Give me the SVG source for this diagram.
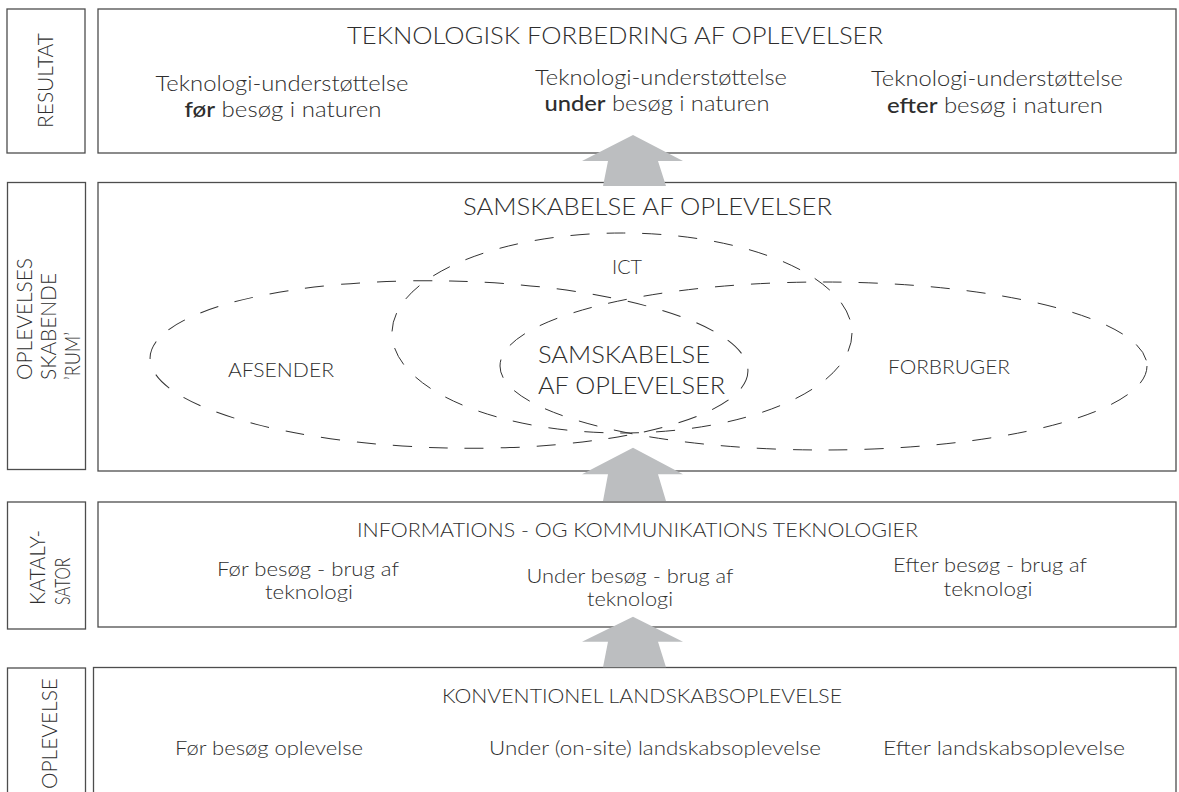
<svg xmlns="http://www.w3.org/2000/svg" width="1179" height="792" viewBox="0 0 1179 792">
<style>
.box{fill:none;stroke:#4d4d4d;stroke-width:1.3}
.t{font-family:Lato,"Liberation Sans",sans-serif;font-weight:300;fill:#2e2e2e}
.b{font-weight:500}
.ell{fill:none;stroke:#333;stroke-width:1;stroke-dasharray:19 17}
.arrow{fill:#bcbec0}
.m{text-anchor:middle}
</style>
<rect width="1179" height="792" fill="#fff"/>

<g id="band-resultat">
<rect class="box" x="7" y="9" width="78" height="144"/>
<text class="t m" font-size="22" textLength="95" lengthAdjust="spacingAndGlyphs" transform="translate(53,80.5) rotate(-90)">RESULTAT</text>
<rect class="box" x="98" y="9" width="1078" height="144"/>
<text class="t m" x="615" y="44" font-size="24" textLength="536" lengthAdjust="spacingAndGlyphs">TEKNOLOGISK FORBEDRING AF OPLEVELSER</text>
<text class="t m" x="282" y="91" font-size="21" textLength="253" lengthAdjust="spacingAndGlyphs">Teknologi-understøttelse</text>
<text class="t m" x="283" y="117" font-size="21" textLength="197" lengthAdjust="spacingAndGlyphs"><tspan class="b">før</tspan> besøg i naturen</text>
<text class="t m" x="661" y="85" font-size="21" textLength="252" lengthAdjust="spacingAndGlyphs">Teknologi-understøttelse</text>
<text class="t m" x="657" y="111" font-size="21" textLength="225" lengthAdjust="spacingAndGlyphs"><tspan class="b">under</tspan> besøg i naturen</text>
<text class="t m" x="997" y="86" font-size="21" textLength="252" lengthAdjust="spacingAndGlyphs">Teknologi-understøttelse</text>
<text class="t m" x="995" y="113" font-size="21" textLength="216" lengthAdjust="spacingAndGlyphs"><tspan class="b">efter</tspan> besøg i naturen</text>
</g>

<g id="band-rum">
<rect class="box" x="7.5" y="182.5" width="78" height="287"/>
<text class="t" font-size="22" textLength="122" lengthAdjust="spacingAndGlyphs" transform="translate(31.5,380) rotate(-90)">OPLEVELSES</text>
<text class="t" font-size="22" textLength="107" lengthAdjust="spacingAndGlyphs" transform="translate(55.5,380) rotate(-90)">SKABENDE</text>
<text class="t" font-size="22" textLength="48" lengthAdjust="spacingAndGlyphs" transform="translate(80,380) rotate(-90)">’RUM’</text>
<rect class="box" x="98" y="182.5" width="1078" height="288.5"/>
<text class="t m" x="647.5" y="215" font-size="24" textLength="369" lengthAdjust="spacingAndGlyphs">SAMSKABELSE AF OPLEVELSER</text>
<ellipse class="ell" cx="449" cy="364.5" rx="299" ry="83.5" transform="rotate(1.3 449 364.5)"/>
<ellipse class="ell" cx="823.5" cy="366" rx="323.5" ry="84"/>
<ellipse class="ell" cx="622" cy="333" rx="230" ry="100"/>
<text class="t m" x="627" y="274" font-size="20" textLength="30" lengthAdjust="spacingAndGlyphs">ICT</text>
<text class="t m" x="281" y="377" font-size="20" textLength="106" lengthAdjust="spacingAndGlyphs">AFSENDER</text>
<text class="t" x="538" y="363" font-size="23" textLength="172" lengthAdjust="spacingAndGlyphs">SAMSKABELSE</text>
<text class="t" x="538" y="394" font-size="23" textLength="187" lengthAdjust="spacingAndGlyphs">AF OPLEVELSER</text>
<text class="t m" x="949" y="374" font-size="20" textLength="122" lengthAdjust="spacingAndGlyphs">FORBRUGER</text>
</g>

<g id="band-katalysator">
<rect class="box" x="7.5" y="502" width="78" height="127"/>
<text class="t" font-size="22" textLength="75" lengthAdjust="spacingAndGlyphs" transform="translate(45,605) rotate(-90)">KATALY-</text>
<text class="t" font-size="22" textLength="47" lengthAdjust="spacingAndGlyphs" transform="translate(70,605) rotate(-90)">SATOR</text>
<rect class="box" x="98" y="502" width="1078" height="125"/>
<text class="t m" x="637.5" y="537" font-size="20" textLength="561" lengthAdjust="spacingAndGlyphs">INFORMATIONS - OG KOMMUNIKATIONS TEKNOLOGIER</text>
<text class="t m" x="308" y="576" font-size="20" textLength="182" lengthAdjust="spacingAndGlyphs">Før besøg - brug af</text>
<text class="t m" x="309" y="599" font-size="20" textLength="88" lengthAdjust="spacingAndGlyphs">teknologi</text>
<text class="t m" x="630" y="583" font-size="20" textLength="207" lengthAdjust="spacingAndGlyphs">Under besøg - brug af</text>
<text class="t m" x="630" y="606" font-size="20" textLength="86" lengthAdjust="spacingAndGlyphs">teknologi</text>
<text class="t m" x="990" y="572" font-size="20" textLength="194" lengthAdjust="spacingAndGlyphs">Efter besøg - brug af</text>
<text class="t m" x="988" y="596" font-size="20" textLength="89" lengthAdjust="spacingAndGlyphs">teknologi</text>
</g>

<g id="band-oplevelse">
<rect class="box" x="7.5" y="668" width="78" height="140"/>
<text class="t" font-size="22" text-anchor="end" textLength="111" lengthAdjust="spacingAndGlyphs" transform="translate(56.5,678) rotate(-90)">OPLEVELSE</text>
<rect class="box" x="93.5" y="667.5" width="1082.5" height="140"/>
<text class="t m" x="642" y="703" font-size="20" textLength="400" lengthAdjust="spacingAndGlyphs">KONVENTIONEL LANDSKABSOPLEVELSE</text>
<text class="t m" x="269" y="755" font-size="20" textLength="188" lengthAdjust="spacingAndGlyphs">Før besøg oplevelse</text>
<text class="t" x="489" y="755" font-size="20" textLength="332" lengthAdjust="spacingAndGlyphs">Under (on-site) landskabsoplevelse</text>
<text class="t" x="883" y="755" font-size="20" textLength="242" lengthAdjust="spacingAndGlyphs">Efter landskabsoplevelse</text>
</g>

<g id="connectors">
<polygon class="arrow" points="633,135 683,161 658,161 666,186 603,186 608,161 582,161"/>
<polygon class="arrow" points="633,447.7 683,474.3 658,474.3 666,501 603,501 608,474.3 582,474.3"/>
<polygon class="arrow" points="633,616.7 683,641.7 658,641.7 666,667.3 603,667.3 608,641.7 582,641.7"/>
</g>
</svg>
